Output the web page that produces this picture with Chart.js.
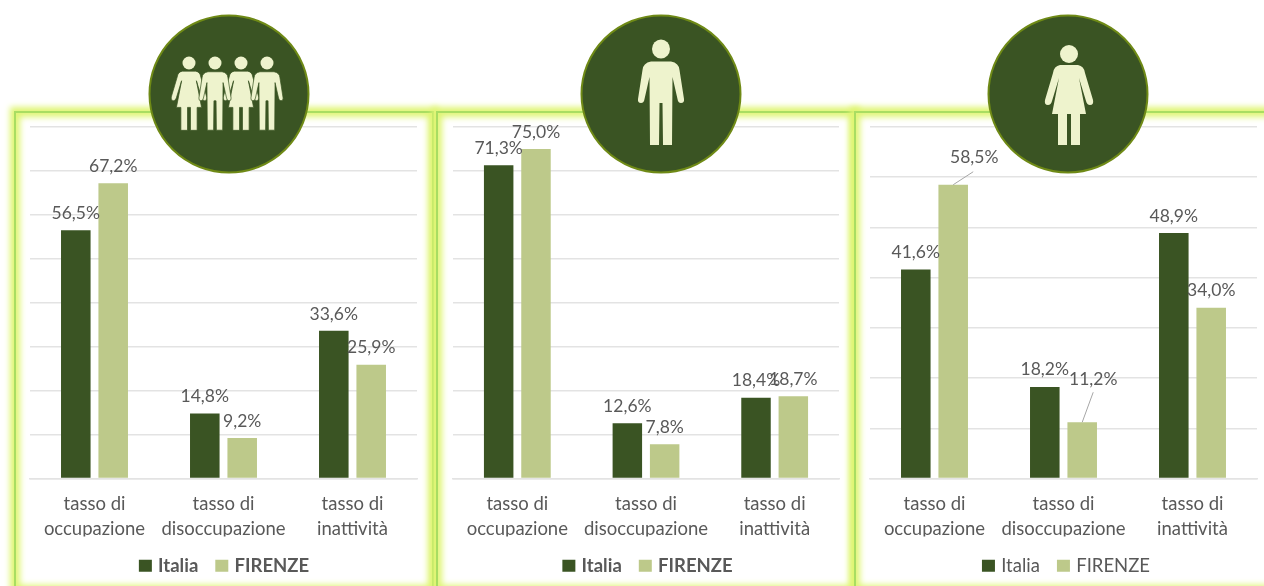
<!DOCTYPE html>
<html>
<head>
<meta charset="utf-8">
<script src="https://cdn.jsdelivr.net/npm/chart.js@4"></script>
<style>
html,body{margin:0;padding:0;background:#fff;overflow:hidden}
#stage{position:relative;width:1264px;height:586px;overflow:hidden;background:#fff}
.panel{position:absolute;box-sizing:border-box;border:2px solid #a9dd62;background:#fff;
 box-shadow:0 0 6px 4px #dff572, inset 0 0 6px 4px #dff572}
.wrap{position:absolute}
canvas{display:block}
svg{position:absolute;left:0;top:0;pointer-events:none}
</style>
</head>
<body>
<div id="stage">
 <div class="panel" style="left:14px;top:111px;width:420px;height:480px"></div>
 <div class="panel" style="left:436px;top:111px;width:420px;height:480px"></div>
 <div class="panel" style="left:854px;top:111px;width:430px;height:480px"></div>
 <div class="wrap" style="left:18px;top:114px;width:412px;height:472px"><canvas id="c1"></canvas></div>
 <div class="wrap" style="left:440px;top:114px;width:412px;height:472px"><canvas id="c2"></canvas></div>
 <div class="wrap" style="left:858px;top:114px;width:406px;height:472px"><canvas id="c3"></canvas></div>
 <svg width="1264" height="586" viewBox="0 0 1264 586">
  <defs>
   <path id="man" d="M-10,12.5 L10,12.5 Q18,14 18.5,21 L23,50 Q23.5,54 20,54 Q17,54 16.5,50 L11.5,28 L11,96 L2,96 L1.5,54 L-1.5,54 L-2,96 L-11,96 L-11.5,28 L-16.5,50 Q-17,54 -20,54 Q-23.5,54 -23,50 L-18.5,21 Q-18,14 -10,12.5Z"/>
   <path id="woman" d="M-9,11 L9,11 Q15,12 16,19 L24,46 Q25,51 21,51 Q18,51 17,47 L10,24 L17,60 L11,60 L11,91 L2,91 L2,60 L-2,60 L-2,91 L-11,91 L-11,60 L-17,60 L-10,24 L-17,47 Q-18,51 -21,51 Q-25,51 -24,46 L-16,19 Q-15,12 -9,11Z"/>
  </defs>
  <g fill="#3a5423" stroke="#6f8a16" stroke-width="2">
   <ellipse cx="229" cy="94" rx="79.5" ry="78.5"/>
   <ellipse cx="661" cy="94" rx="79.5" ry="78.5"/>
   <ellipse cx="1068" cy="94" rx="79.5" ry="78.5"/>
  </g>
  <g fill="#eef3cd">
   <ellipse cx="661" cy="49" rx="9" ry="9.5"/><use href="#man" x="661" y="49"/>
   <circle cx="1069" cy="54" r="9"/><use href="#woman" x="1069" y="54"/>
   <circle cx="189" cy="63" r="6.5"/><circle cx="215" cy="63" r="6.5"/><circle cx="241" cy="63" r="6.5"/><circle cx="267" cy="63" r="6.5"/>
   <g stroke="#3a5423" stroke-width="1">
    <use href="#woman" transform="translate(189,63) scale(.74)"/>
    <use href="#woman" transform="translate(241,63) scale(.74)"/>
    <use href="#man" transform="translate(215,63) scale(.7)"/>
    <use href="#man" transform="translate(267,63) scale(.7)"/>
   </g>
  </g>
 </svg>
</div>
<script>
const categories = [['tasso di','occupazione'],['tasso di','disoccupazione'],['tasso di','inattività']];
const seriesNames = ['Italia','FIRENZE'];
const totaleItalia = [56.5,14.8,33.6];
const totaleFirenze = [67.2,9.2,25.9];
const maschiItalia = [71.3,12.6,18.4];
const maschiFirenze = [75.0,7.8,18.7];
const femmineItalia = [41.6,18.2,48.9];
const femmineFirenze = [58.5,11.2,34.0];

const DARK='#3a5423', LIGHT='#bdc98a', GRID='#e3e3e3', TEXT='#595959', FONT='Lato, "Open Sans", sans-serif';

const labelPlugin={
 id:'valueLabels',
 afterLayout(chart,args,opts){
  chart.legend.left+=opts.legendShift;chart.legend.right+=opts.legendShift;
 },
 afterDatasetsDraw(chart,args,opts){
  const c=chart.ctx;
  c.save();
  c.font='17.5px '+FONT;c.fillStyle=TEXT;c.textAlign='center';c.textBaseline='middle';
  chart.data.datasets.forEach((ds,i)=>{
   chart.getDatasetMeta(i).data.forEach((bar,j)=>{
    const n=(opts.nudges||{})[i+':'+j]||[0,-17];
    const lx=bar.x+n[0], ly=bar.y+n[1];
    if(n.length>2){
     c.strokeStyle='#a6a6a6';c.lineWidth=1;c.beginPath();
     c.moveTo(bar.x,bar.y);c.lineTo(lx+n[2],ly+n[3]);c.stroke();
    }
    c.fillText(ds.data[j].toFixed(1).replace('.',',')+'%',lx,ly);
   });
  });
  c.restore();
 }
};

function build(id,a,b,maxV,pad,legendWeight,legendShift,nudges){
 new Chart(document.getElementById(id),{
  type:'bar',
  data:{labels:categories,datasets:[
   {label:seriesNames[0],data:a,backgroundColor:DARK},
   {label:seriesNames[1],data:b,backgroundColor:LIGHT}]},
  plugins:[labelPlugin],
  options:{
   responsive:true,maintainAspectRatio:false,animation:false,
   layout:{padding:pad},
   datasets:{bar:{categoryPercentage:.58,barPercentage:.79}},
   scales:{
    x:{grid:{display:false,drawTicks:false},border:{display:true,color:GRID,width:1.5},
       ticks:{color:TEXT,padding:13,maxRotation:0,autoSkip:false,font:{family:FONT,size:18.5,lineHeight:1.35}},
       afterFit(s){s.height=58;}},
    y:{min:0,max:maxV,grid:{color:GRID,lineWidth:1.5,drawTicks:false},border:{display:false},
       ticks:{display:false,stepSize:10},afterFit(s){s.width=0;}}
   },
   plugins:{
    tooltip:{enabled:false},
    valueLabels:{nudges,legendShift},
    legend:{position:'bottom',
     labels:{color:TEXT,boxWidth:7,boxHeight:6,padding:20,font:{family:FONT,size:18.5,weight:legendWeight},
      generateLabels:c=>Chart.defaults.plugins.legend.labels.generateLabels(c)
        .map(l=>({...l,lineWidth:6,strokeStyle:l.fillStyle}))}}
   }
  }
 });
}
build('c1',totaleItalia,totaleFirenze,80,{left:12,right:13,top:13,bottom:1},'bold',2,{});
build('c2',maschiItalia,maschiFirenze,80,{left:13,right:13,top:13,bottom:1},'bold',3,{});
build('c3',femmineItalia,femmineFirenze,70,{left:12,right:7,top:13,bottom:1},'normal',4,
 {'0:1':[0,-18],'1:0':[21,-27,-1,14],'1:1':[11,-43,0,13]});
</script>
</body>
</html>
